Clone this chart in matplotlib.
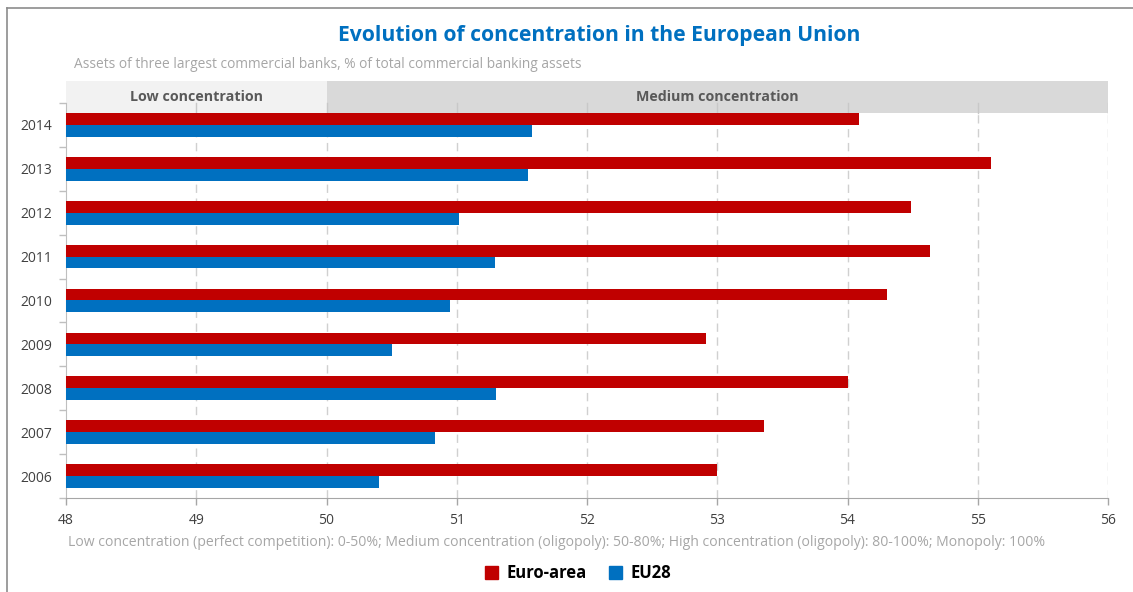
import matplotlib
matplotlib.use("Agg")
import matplotlib.pyplot as plt
from matplotlib.patches import Rectangle
from matplotlib.lines import Line2D
import numpy as np

years = ["2006", "2007", "2008", "2009", "2010", "2011", "2012", "2013", "2014"]
euro_area = [53.00, 53.36, 54.00, 52.91, 54.30, 54.63, 54.49, 55.10, 54.09]
eu28 = [50.40, 50.83, 51.30, 50.50, 50.95, 51.29, 51.02, 51.55, 51.58]
xticks = [48, 49, 50, 51, 52, 53, 54, 55, 56]
bands = [("Low concentration", 48, 50, "#f2f2f2"), ("Medium concentration", 50, 56, "#d9d9d9")]

FONT = ["Open Sans", "DejaVu Sans"]
plt.rcParams["font.family"] = FONT

W, H = 1133, 592
fig = plt.figure(figsize=(W / 100, H / 100), dpi=100)

# frame
fig.add_artist(Line2D([7 / W, 7 / W], [0, 1 - 8 / H], color="#8c8c8c", lw=1.2, transform=fig.transFigure))
fig.add_artist(Line2D([7 / W, 1], [1 - 8 / H, 1 - 8 / H], color="#8c8c8c", lw=1.2, transform=fig.transFigure))

left, right, bottom, top = 66 / W, 1108 / W, 1 - 498 / H, 1 - 81 / H
ax = fig.add_axes([left, bottom, right - left, top - bottom])

y = np.arange(len(years))
h = 0.27
ax.barh(y + h / 2, euro_area, height=h, color="#C00000", zorder=3)
ax.barh(y - h / 2, eu28, height=h, color="#0070C0", zorder=3)

ax.set_xlim(48, 56)
ax.set_ylim(-0.5, 9.0)
band_lo, band_hi = 8.27, 9.0

for label, x0, x1, c in bands:
    ax.add_patch(Rectangle((x0, band_lo), x1 - x0, band_hi - band_lo, facecolor=c, edgecolor="none", zorder=1))
    ax.text((x0 + x1) / 2, (band_lo + band_hi) / 2, label, ha="center", va="center",
            fontsize=10.3, fontweight="bold", color="#595959", zorder=4)

for xv in xticks[1:]:
    ax.plot([xv, xv], [-0.5, band_lo], ls=(0, (6, 4)), color="#d0d0d0", lw=1.0, zorder=2)
    ax.plot([xv, xv], [band_lo, band_lo + 0.22], color="#c8c8c8", lw=1.0, zorder=2)

ax.set_xticks(xticks)
ax.set_xticklabels([str(v) for v in xticks], fontsize=10, color="#404040")
ax.set_yticks(y)
ax.set_yticklabels(years, fontsize=10, color="#404040")
ax.set_yticks(np.arange(-0.5, 8.6, 1.0), minor=True)
ax.tick_params(axis="y", which="major", length=0, pad=10)
ax.tick_params(axis="y", which="minor", length=5, color="#bfbfbf", width=1)
ax.tick_params(axis="x", length=5, color="#a6a6a6", width=1, pad=6)

for s in ["top", "right"]:
    ax.spines[s].set_visible(False)
ax.spines["left"].set_bounds(-0.5, 8.5)
ax.spines["left"].set_color("#bfbfbf")
ax.spines["bottom"].set_color("#a6a6a6")
ax.patch.set_alpha(0)

fig.text(599 / W, 1 - 35 / H, "Evolution of concentration in the European Union", ha="center", va="center",
         fontsize=15.2, fontweight="bold", color="#0070C0")
fig.text(74 / W, 1 - 65 / H, "Assets of three largest commercial banks, % of total commercial banking assets",
         ha="left", va="center", fontsize=9.9, color="#a6a6a6")
fig.text(68 / W, 1 - 543 / H,
         "Low concentration (perfect competition): 0-50%; Medium concentration (oligopoly): 50-80%; High concentration (oligopoly): 80-100%; Monopoly: 100%",
         ha="left", va="center", fontsize=10.1, color="#a6a6a6")

# legend
handles = [Rectangle((0, 0), 1, 1, color="#C00000"), Rectangle((0, 0), 1, 1, color="#0070C0")]
leg = fig.legend(handles, ["Euro-area", "EU28"], loc="center", bbox_to_anchor=(578 / W, 1 - 573 / H),
                 ncol=2, frameon=False, prop={"family": FONT, "weight": "bold", "size": 12},
                 handlelength=0.8, handleheight=0.8, handletextpad=0.5, columnspacing=1.3)

fig.savefig("out.png", dpi=100)
